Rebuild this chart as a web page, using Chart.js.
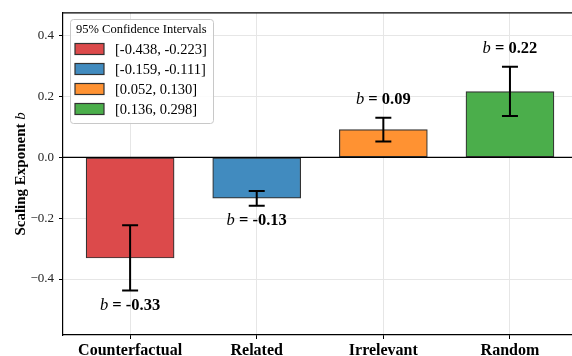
<!DOCTYPE html>
<html>
<head>
<meta charset="utf-8">
<script src="https://cdn.jsdelivr.net/npm/chart.js@4.4.0/dist/chart.umd.min.js"></script>
<style>
  html, body { margin: 0; padding: 0; background: #fff; overflow: hidden; }
  #wrap { width: 572px; height: 356px; }
</style>
</head>
<body>
<div id="wrap"><canvas id="chartExponentes" width="572" height="356"></canvas></div>
<script>
// Datos
const categorias = ['Counterfactual', 'Related', 'Irrelevant', 'Random'];
const exponentes = [-0.331, -0.134, 0.091, 0.216];
const ciInferior = [-0.438, -0.159, 0.052, 0.136];
const ciSuperior = [-0.223, -0.111, 0.130, 0.298];
const etiquetasB = ['-0.33', '-0.13', '0.09', '0.22'];
const etiquetasCI = ['[-0.438, -0.223]', '[-0.159, -0.111]', '[0.052, 0.130]', '[0.136, 0.298]'];
const ticksY = [-0.4, -0.2, 0.0, 0.2, 0.4];
const coloresBarras = ['#dc4a4b', '#418bbf', '#ff9232', '#4bae4b'];

const SERIF = '"Liberation Serif", "Times New Roman", serif';

// Formato de ticks con signo menos tipografico
function formatoTick(v) {
    const s = Math.abs(v).toFixed(1);
    return v < -1e-9 ? '\u2212' + s : s;
}

// Barras de error, linea cero, anotaciones y marco superior
const pluginExtras = {
    id: 'extras',
    afterDatasetsDraw(chart) {
        const ctx = chart.ctx;
        const x = chart.scales.x;
        const y = chart.scales.y;
        const area = chart.chartArea;
        ctx.save();

        // Linea horizontal en cero
        ctx.strokeStyle = '#000';
        ctx.lineWidth = 1.2;
        ctx.beginPath();
        ctx.moveTo(area.left, y.getPixelForValue(0));
        ctx.lineTo(area.right, y.getPixelForValue(0));
        ctx.stroke();

        // Marco superior
        ctx.beginPath();
        ctx.moveTo(area.left, area.top);
        ctx.lineTo(area.right, area.top);
        ctx.stroke();

        // Barras de error
        ctx.lineWidth = 2;
        categorias.forEach((c, i) => {
            const px = x.getPixelForValue(i);
            const yLo = y.getPixelForValue(ciInferior[i]);
            const yHi = y.getPixelForValue(ciSuperior[i]);
            ctx.beginPath();
            ctx.moveTo(px, yLo); ctx.lineTo(px, yHi);
            ctx.moveTo(px - 8, yLo); ctx.lineTo(px + 8, yLo);
            ctx.moveTo(px - 8, yHi); ctx.lineTo(px + 8, yHi);
            ctx.stroke();
        });

        // Anotaciones b = valor
        ctx.fillStyle = '#000';
        ctx.textBaseline = 'middle';
        ctx.textAlign = 'left';
        categorias.forEach((c, i) => {
            const px = x.getPixelForValue(i);
            const negativo = exponentes[i] < 0;
            const py = negativo
                ? y.getPixelForValue(ciInferior[i]) + 15
                : y.getPixelForValue(ciSuperior[i]) - 18;
            const partes = [
                { t: 'b', f: 'italic 16.5px ' + SERIF },
                { t: ' = ', f: 'bold 16.5px ' + SERIF },
                { t: etiquetasB[i], f: 'bold 16.5px ' + SERIF }
            ];
            let ancho = 0;
            partes.forEach(p => { ctx.font = p.f; p.w = ctx.measureText(p.t).width; ancho += p.w; });
            let cx = px - ancho / 2;
            partes.forEach(p => { ctx.font = p.f; ctx.fillText(p.t, cx, py); cx += p.w; });
        });

        ctx.restore();
    },
    afterDraw(chart) {
        const ctx = chart.ctx;
        const area = chart.chartArea;
        ctx.save();

        // Titulo del eje Y (negrita con b en cursiva)
        ctx.translate(25, (area.top + area.bottom) / 2);
        ctx.rotate(-Math.PI / 2);
        ctx.fillStyle = '#000';
        ctx.textBaseline = 'alphabetic';
        const p1 = 'Scaling Exponent ';
        ctx.font = 'bold 15px ' + SERIF;
        const w1 = ctx.measureText(p1).width;
        ctx.font = 'italic 15px ' + SERIF;
        const w2 = ctx.measureText('b').width;
        let tx = -(w1 + w2) / 2;
        ctx.font = 'bold 15px ' + SERIF;
        ctx.fillText(p1, tx, 0);
        ctx.font = 'italic 15px ' + SERIF;
        ctx.fillText('b', tx + w1, 0);
        ctx.restore();

        // Leyenda de intervalos de confianza
        ctx.save();
        const lx = 70, ly = 19, lw = 143, lh = 104;
        ctx.fillStyle = 'rgba(255,255,255,0.85)';
        ctx.strokeStyle = '#c8c8c8';
        ctx.lineWidth = 1;
        ctx.beginPath();
        ctx.roundRect(lx + 0.5, ly + 0.5, lw, lh, 3);
        ctx.fill();
        ctx.stroke();

        ctx.fillStyle = '#000';
        ctx.textBaseline = 'middle';
        ctx.font = '12.5px ' + SERIF;
        ctx.fillText('95% Confidence Intervals', 76, 30);

        etiquetasCI.forEach((txt, i) => {
            const ry = 49 + i * 20;
            ctx.fillStyle = coloresBarras[i];
            ctx.fillRect(75, ry - 5.5, 29, 11);
            ctx.strokeStyle = '#333';
            ctx.lineWidth = 1.2;
            ctx.strokeRect(75, ry - 5.5, 29, 11);
            ctx.fillStyle = '#000';
            ctx.font = '14.5px ' + SERIF;
            ctx.fillText(txt, 115, ry + 1);
        });
        ctx.restore();
    }
};

const ctxExp = document.getElementById('chartExponentes').getContext('2d');
new Chart(ctxExp, {
    type: 'bar',
    data: {
        datasets: [{
            data: categorias.map((c, i) => ({ x: i, y: exponentes[i] })),
            backgroundColor: coloresBarras,
            borderColor: '#333',
            borderWidth: 1.2,
            borderSkipped: false,
            barThickness: 88
        }]
    },
    options: {
        responsive: false,
        animation: false,
        devicePixelRatio: 1,
        layout: { padding: { top: 12, left: 0, right: 0, bottom: 0 } },
        plugins: {
            legend: { display: false },
            tooltip: { enabled: false }
        },
        scales: {
            x: {
                type: 'linear',
                offset: false,
                min: -0.53,
                max: 3.49,
                afterBuildTicks: s => { s.ticks = categorias.map((c, i) => ({ value: i })); },
                afterFit: s => { s.height = 21; },
                ticks: {
                    callback: v => categorias[v],
                    autoSkip: false,
                    maxRotation: 0,
                    padding: 2,
                    color: '#000',
                    font: { family: SERIF, size: 16, weight: 'bold' }
                },
                grid: { offset: false, color: '#e6e6e6', tickColor: '#000', tickLength: 4, lineWidth: 1 },
                border: { color: '#000', width: 1.2 }
            },
            y: {
                min: -0.584,
                max: 0.475,
                afterBuildTicks: s => { s.ticks = ticksY.map(v => ({ value: v })); },
                afterFit: s => { s.width = 63; },
                ticks: {
                    callback: v => formatoTick(v),
                    padding: 5,
                    color: '#222',
                    font: { family: SERIF, size: 13 }
                },
                grid: { color: '#e6e6e6', tickColor: '#000', tickLength: 4, lineWidth: 1 },
                border: { color: '#000', width: 1.2 }
            }
        }
    },
    plugins: [pluginExtras]
});
</script>
</body>
</html>
